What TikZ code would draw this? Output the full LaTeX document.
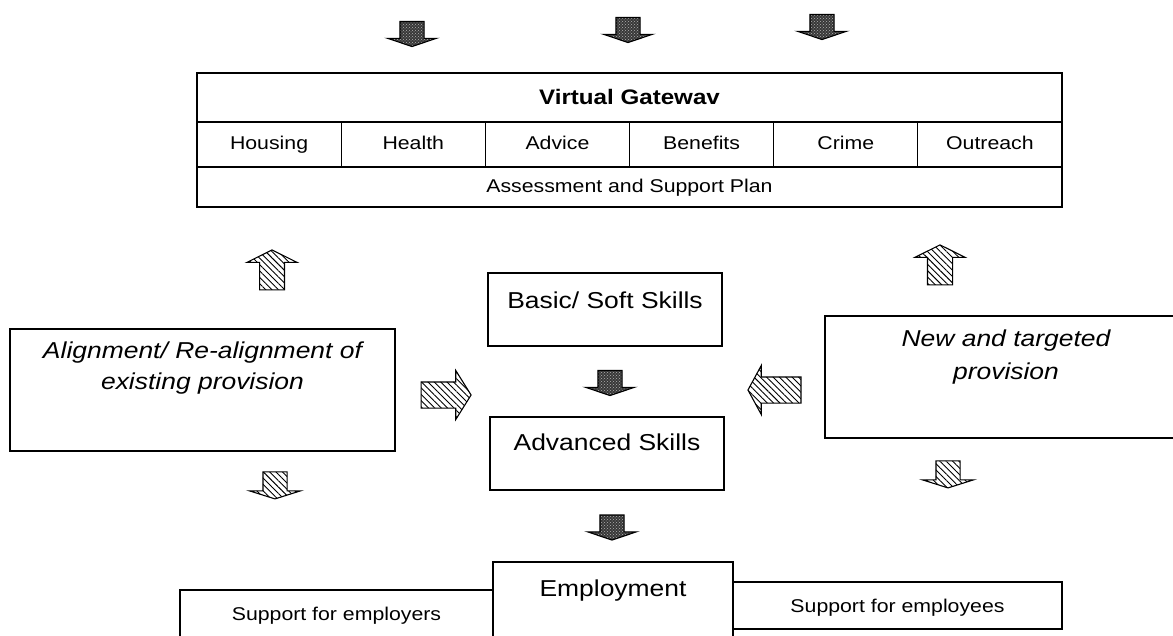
\documentclass[tikz,border=0pt]{standalone}
\usepackage{fontspec}
\setmainfont{Liberation Sans}[FakeStretch=1.15]
\usetikzlibrary{positioning,shapes.arrows,patterns,patterns.meta}

\tikzset{
  box/.style={draw, line width=1.2pt, inner sep=0pt, outer sep=0pt, fill=white},
  cell/.style={box, minimum width=144.17pt, minimum height=45pt,
    text height=27.5pt, text depth=17.5pt, font=\fontsize{18.5}{22}\selectfont},
  blockarrow/.style={single arrow, draw, line width=1.1pt, inner xsep=0pt, inner ysep=12pt,
    single arrow head extend=12.5pt, minimum width=49pt},
  hatched/.style={blockarrow, pattern={Lines[angle=-45, distance=4.5pt, line width=0.9pt]}},
  darkarrow/.style={blockarrow, preaction={fill=black!78}, pattern=crosshatch dots,
    pattern color=black!30, inner ysep=11.5pt, minimum height=25pt, single arrow tip angle=143, rotate=-90},
}

\begin{document}
\begin{tikzpicture}[x=1pt, y=-1pt]
  \useasboundingbox (0,0) rectangle (1173,635);
  \clip (0,0) rectangle (1173,635);

  % arrows coming into the gateway
  \node[darkarrow] (in1) at (412,32) {};
  \node[darkarrow] (in2) at (628,28) {};
  \node[darkarrow] (in3) at (822,25) {};

  % virtual gateway
  \node[box, minimum width=865pt, minimum height=49pt, text height=31.5pt, text depth=17.5pt,
        font=\bfseries\fontsize{21}{25}\selectfont] (gateway) at (629.5,97.5) {Virtual Gatewav};
  \node[cell, anchor=north west] (housing) at (197,122) {Housing};
  \node[cell, right=0pt of housing] (health) {Health};
  \node[cell, right=0pt of health] (advice) {Advice};
  \node[cell, right=0pt of advice] (benefits) {Benefits};
  \node[cell, right=0pt of benefits] (crime) {Crime};
  \node[cell, right=0pt of crime] (outreach) {Outreach};
  \node[box, minimum width=865pt, minimum height=40pt, text height=25.6pt, text depth=14.4pt,
        font=\fontsize{18.5}{22}\selectfont] (plan) at (629.5,187) {Assessment and Support Plan};

  % provision boxes
  \node[box, anchor=north west, minimum width=385pt, minimum height=122pt, align=center,
        text height=60pt, text depth=62pt, font=\itshape\fontsize{23}{31}\selectfont]
        (existing) at (10,329) {Alignment/ Re-alignment of\\existing provision};
  \node[box, anchor=north west, minimum width=362pt, minimum height=122pt, align=center,
        text height=63pt, text depth=59pt, font=\itshape\fontsize{23}{33}\selectfont]
        (targeted) at (825,316) {New and targeted\\provision};

  % skills
  \node[box, anchor=north west, minimum width=234pt, minimum height=73pt,
        text height=35pt, text depth=38pt, font=\fontsize{23}{31}\selectfont]
        (basic) at (488,273) {Basic/ Soft Skills};
  \node[box, anchor=north west, minimum width=234pt, minimum height=73pt,
        text height=33pt, text depth=40pt, font=\fontsize{23}{31}\selectfont]
        (advanced) at (490,417) {Advanced Skills};

  % employment
  \node[box, anchor=north west, minimum width=313pt, minimum height=70pt,
        text height=30pt, text depth=40pt, font=\fontsize{18.5}{22}\selectfont]
        (employers) at (180,590) {Support for employers};
  \node[box, anchor=north west, minimum width=329pt, minimum height=47pt,
        text height=30pt, text depth=17pt, font=\fontsize{18.5}{22}\selectfont]
        (employees) at (733,582) {Support for employees};
  \node[box, anchor=north west, minimum width=240pt, minimum height=100pt,
        text height=34pt, text depth=66pt, font=\fontsize{23}{31}\selectfont]
        (employment) at (493,562) {Employment};

  % block arrows
  \node[hatched, rotate=90, minimum height=40pt, single arrow tip angle=127] (upleft) at (272,273) {};
  \node[hatched, rotate=90, minimum height=40pt, single arrow tip angle=127] (upright) at (940,268) {};
  \node[hatched, rotate=-90, minimum height=27pt, inner ysep=11.5pt, single arrow head extend=13.5pt,
        single arrow tip angle=145] (downleft) at (275,483.5) {};
  \node[hatched, rotate=-90, minimum height=27pt, inner ysep=11.5pt, single arrow head extend=13.5pt,
        single arrow tip angle=145] (downright) at (948,472.5) {};
  \node[hatched, minimum height=50pt, inner ysep=12.5pt, single arrow head extend=11.5pt,
        single arrow tip angle=116] (toskills) at (442,395) {};
  \node[hatched, rotate=180, minimum height=53pt, inner ysep=12.5pt, single arrow head extend=11.5pt,
        single arrow tip angle=123] (fromnew) at (778,390) {};
  \node[darkarrow] (basictoadv) at (610,381) {};
  \node[darkarrow] (advtojob) at (612,525.5) {};
\end{tikzpicture}
\end{document}
